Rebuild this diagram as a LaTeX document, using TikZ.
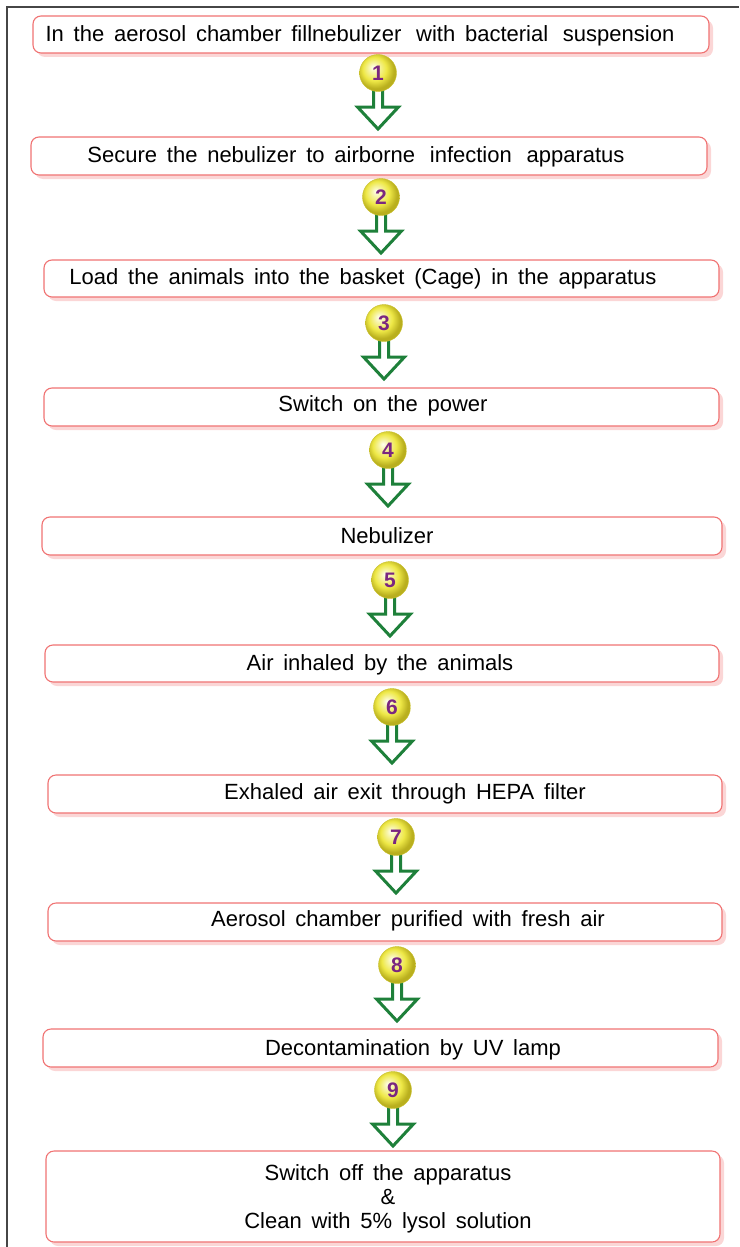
\documentclass[tikz,border=0pt]{standalone}
\usepackage{fontspec}
\setmainfont{Liberation Sans}[WordSpace=1.6]
\usetikzlibrary{shadows}

\definecolor{boxedge}{RGB}{240,115,115}
\definecolor{boxshadow}{RGB}{251,214,214}
\definecolor{arrowgreen}{RGB}{30,128,58}
\definecolor{numpurple}{RGB}{122,38,128}
\definecolor{framegray}{RGB}{70,70,70}
\definecolor{ballhi}{RGB}{255,255,240}
\definecolor{ballmid}{RGB}{238,232,70}
\definecolor{balledge}{RGB}{185,175,30}

% glossy yellow ball with the highlight up and to the left
\pgfdeclareradialshading{yellowball}{\pgfqpoint{-7bp}{8bp}}{%
  color(0bp)=(ballhi); color(7bp)=(ballmid!50!white); color(16bp)=(ballmid);
  color(25bp)=(balledge); color(50bp)=(balledge)}

% a slightly wider gap between two words
\newcommand\widegap{\hspace{5pt} }

\tikzset{
  x=1pt, y=-1pt,
  stepbox/.style={draw=boxedge, line width=1.1pt, rounded corners=8pt, fill=white,
    inner sep=0pt,
    drop shadow={shadow xshift=4pt, shadow yshift=-4pt, fill=boxshadow, opacity=1, draw=none}},
  steptext/.style={font=\fontsize{22}{24}\selectfont, align=center, inner sep=0pt},
  ball/.style={circle, minimum size=37pt, inner sep=0pt, shading=yellowball,
    draw=balledge!70!ballmid, line width=0.4pt,
    font=\fontsize{21}{21}\selectfont\bfseries, text=numpurple},
  blockarrow/.style={draw=arrowgreen, line width=3pt, fill=white, line join=miter},
}

% numbered ball with the hollow block arrow running down from it
\newcommand\numstep[4]{%
  \coordinate (#1) at (#2,#3);
  \draw[blockarrow] ([xshift=-4.5pt]#1) -- ++(0,34) -- ++(-16,0) -- ++(20.5,22)
    -- ++(20.5,-22) -- ++(-16,0) -- ++(0,-34) -- cycle;
  \node[ball] (#1n) at (#1) {#4};}

\begin{document}
\begin{tikzpicture}
\useasboundingbox (0,0) rectangle (739,1247);

% outer frame (top and left edges)
\draw[framegray, line width=1.3pt] (7,1247) -- (7,7) -- (739,7);

% boxes
\node[stepbox, minimum width=676pt, minimum height=37pt] (b1) at (371,34.5) {};
\node[stepbox, minimum width=676pt, minimum height=38pt] (b2) at (369,156) {};
\node[stepbox, minimum width=675pt, minimum height=37pt] (b3) at (381.5,278.5) {};
\node[stepbox, minimum width=675pt, minimum height=38pt] (b4) at (381.5,407) {};
\node[stepbox, minimum width=680pt, minimum height=38pt] (b5) at (382,536) {};
\node[stepbox, minimum width=674pt, minimum height=37pt] (b6) at (382,663.5) {};
\node[stepbox, minimum width=674pt, minimum height=38pt] (b7) at (385,794) {};
\node[stepbox, minimum width=674pt, minimum height=38pt] (b8) at (385,922) {};
\node[stepbox, minimum width=675pt, minimum height=38pt] (b9) at (380.5,1048) {};
\node[stepbox, minimum width=674pt, minimum height=91pt] (b10) at (383,1196.5) {};

% box texts
\node[steptext] (t1) at (360,36) {In the aerosol chamber fillnebulizer\widegap with bacterial\widegap suspension};
\node[steptext] (t2) at (356,157) {Secure the nebulizer to airborne\widegap infection\widegap apparatus};
\node[steptext] (t3) at (363,279) {Load the animals into the basket (Cage) in the apparatus};
\node[steptext] (t4) at (383,406) {Switch on the power};
\node[steptext] (t5) at (387,536) {Nebulizer};
\node[steptext] (t6) at (380,665) {Air inhaled by the animals};
\node[steptext] (t7) at (405,794) {Exhaled air exit through HEPA filter};
\node[steptext] (t8) at (408,921) {Aerosol chamber purified with fresh air};
\node[steptext] (t9) at (413,1050) {Decontamination by UV lamp};
\node[steptext] (t10) at (388,1199) {Switch off the apparatus\\ \&\\ Clean with 5\% lysol solution};

% numbered steps
\numstep{k1}{378}{73}{1}
\numstep{k2}{381}{197}{2}
\numstep{k3}{384}{323}{3}
\numstep{k4}{388}{450}{4}
\numstep{k5}{390}{580}{5}
\numstep{k6}{392}{707}{6}
\numstep{k7}{396}{837}{7}
\numstep{k8}{397}{965}{8}
\numstep{k9}{393}{1090}{9}
\end{tikzpicture}
\end{document}
